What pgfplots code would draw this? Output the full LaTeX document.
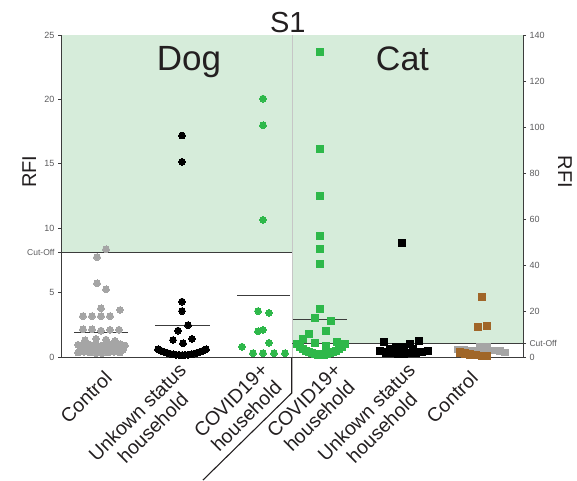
\documentclass[border=0pt]{standalone}
\usepackage{pgfplots}
\pgfplotsset{compat=1.18}
\usepackage{fontspec}
\setmainfont{Liberation Sans}
\usetikzlibrary{calc}
\definecolor{bggreen}{RGB}{214,236,218}
\definecolor{dotgreen}{RGB}{46,184,74}
\definecolor{dotgrey}{RGB}{165,165,165}
\definecolor{dotbrown}{RGB}{160,102,40}
\definecolor{txt}{RGB}{35,31,32}
\definecolor{ticktxt}{RGB}{90,90,92}
\definecolor{axcol}{RGB}{60,60,60}
\begin{document}
\begin{tikzpicture}
\pgfplotsset{
  common/.style={
    scale only axis, width=462pt, height=322pt,
    xmin=61, xmax=523, clip=false,
    tick align=outside, major tick length=3pt,
    axis line style={axcol, line width=0.9pt},
    tick style={axcol, line width=0.7pt},
    yticklabel style={font=\fontsize{9}{10}\selectfont, text=ticktxt},
    /pgf/number format/assume math mode=true,
  }
}
\begin{axis}[common, name=a,
  ymin=0, ymax=25,
  axis x line*=bottom, axis y line*=left, axis on top,
  ytick={0,5,10,15,20,25},
  extra y ticks={8.13}, extra y tick labels={Cut-Off},
  extra y tick style={yticklabel style={font=\fontsize{8.5}{9}\selectfont}},
  xtick={106,188,270,343,417,472},
  xtick style={draw=none},
  xticklabels={Control,{Unkown status\\household},{COVID19+\\household},{COVID19+\\household},{Unkown status\\household},Control},
  xticklabel style={xshift=3pt, yshift=-14pt, rotate=45, anchor=east, align=center, font=\fontsize{19.5}{22}\selectfont, text=txt, inner sep=1pt},
]
% backgrounds
\addplot[fill=bggreen, draw=none] coordinates {(61,8.13) (292,8.13) (292,25) (61,25)} -- cycle;
\addplot[fill=bggreen, draw=none] coordinates {(292,1.071) (523,1.071) (523,25) (292,25)} -- cycle;
\addplot[gray!45, line width=1pt] coordinates {(292,0) (292,25)};
% cut-off lines
\addplot[axcol, line width=1pt] coordinates {(61,8.13) (292,8.13)};
\addplot[axcol, line width=1pt] coordinates {(292,1.071) (523,1.071)};
% dog control
\addplot[only marks, color=dotgrey, mark=*, mark size=3.4pt, mark options={draw=dotgrey, fill=dotgrey, line width=0pt}] coordinates {
(106,8.36) (97,7.76) (97,5.72) (106,5.25) (101,3.78) (120,3.65)
(83,3.18) (92,3.18) (101,3.18) (110,3.18)
(83,2.15) (92,2.15) (101,2.05) (110,2.1) (119,2.12)
(85,1.3) (96,1.4) (106,1.35) (115,1.25)
(78,0.95) (84,1.0) (90,0.95) (96,1.0) (102,0.9) (108,1.0) (114,0.95) (120,1.0) (125,0.9)
(81,0.6) (87,0.65) (93,0.6) (99,0.55) (105,0.6) (111,0.65) (117,0.6) (123,0.55)
(78,0.35) (84,0.4) (90,0.35) (96,0.3) (102,0.3) (108,0.35) (114,0.4) (120,0.35)
};
% dog unknown
\addplot[only marks, color=black, mark=*, mark size=3.4pt, mark options={draw=black, fill=black, line width=0pt}] coordinates {
(182,17.2) (182,15.15) (182,4.3) (182,3.57) (188,2.48) (178,2.05) (173,1.32) (192,1.4) (183,1.06)
(158,0.6) (161,0.49) (164,0.40) (167,0.33) (170,0.26) (173,0.21) (176,0.18) (179,0.16) (182,0.15)
(185,0.16) (188,0.18) (191,0.21) (194,0.26) (197,0.33) (200,0.40) (203,0.49) (206,0.6)
};
% dog covid
\addplot[only marks, color=dotgreen, mark=*, mark size=3.4pt, mark options={draw=dotgreen, fill=dotgreen, line width=0pt}] coordinates {
(263,20.06) (263,17.99) (263,10.64) (258,3.57) (269,3.42) (258,2.0) (263,2.1) (269,1.1)
(242,0.8) (253,0.3) (263,0.3) (274,0.3) (285,0.3)
};
% mean lines dog
\addplot[axcol, line width=0.9pt] coordinates {(74,1.92) (128,1.92)};
\addplot[axcol, line width=0.9pt] coordinates {(155,2.43) (210,2.43)};
\addplot[axcol, line width=0.9pt] coordinates {(237,4.81) (290,4.81)};
% separator below axis
\addplot[txt, line width=1.1pt] coordinates {(291.7,0) (291.7,-2.8) (203,-9.55)};
% texts
\node[font=\fontsize{29}{30}\selectfont, text=txt] at (rel axis cs:0.491,1.039) {S1};
\node[font=\fontsize{35}{36}\selectfont, text=txt, anchor=base] at (rel axis cs:0.277,0.889) {Dog};
\node[font=\fontsize{34}{35}\selectfont, text=txt, anchor=base] at (rel axis cs:0.739,0.891) {Cat};
\node[font=\fontsize{20}{21}\selectfont, text=txt, rotate=90] at (rel axis cs:-0.069,0.575) {RFI};
\node[font=\fontsize{20}{21}\selectfont, text=txt, rotate=-90] at (rel axis cs:1.091,0.575) {RFI};
\end{axis}
\begin{axis}[common,
  ymin=0, ymax=140,
  axis y line*=right, axis x line=none,
  ytick={0,20,40,60,80,100,120,140},
  extra y ticks={6}, extra y tick labels={Cut-Off},
  extra y tick style={yticklabel style={font=\fontsize{8.5}{9}\selectfont}},
]
% cat covid
\addplot[only marks, color=dotgreen, mark=square*, mark size=3.6pt, mark options={draw=dotgreen, fill=dotgreen, line width=0pt}] coordinates {
(320,132.7) (320,90.3) (320,69.9) (320,52.5) (320,46.8) (320,40.6) (320,21.0) (315,17.1) (331,15.8)
(309,9.9) (326,11.4) (303,7.7) (315,6.2) (326,4.8) (337,6.5)
(297,5.5) (300,4.45) (303,3.53) (306,2.76) (309,2.13) (312,1.63) (315,1.28) (318,1.07) (321,1.0)
(324,1.07) (327,1.28) (330,1.63) (333,2.13) (336,2.76) (339,3.53) (342,4.45) (345,5.5)
};
% cat unknown
\addplot[only marks, color=black, mark=square*, mark size=3.6pt, mark options={draw=black, fill=black, line width=0pt}] coordinates {
(402,49.4) (384,6.5) (410,5.5) (419,7.0) (396,4.5) (404,4.2) (390,3.4) (413,3.5)
(380,2.5) (386,2.0) (392,1.6) (398,1.5) (404,1.5) (410,1.6) (416,2.0) (422,2.2) (428,2.6)
};
% cat control grey
\addplot[only marks, color=dotgrey, mark=square*, mark size=3.2pt, mark options={draw=dotgrey, fill=dotgrey, line width=0pt}] coordinates {
(480,4.6) (487,4.6)
(458,3.3) (464,3.0) (470,2.8) (476,2.7) (482,2.7) (488,2.7) (494,2.8) (500,2.6) (505,2.0)
};
% cat control brown
\addplot[only marks, color=dotbrown, mark=square*, mark size=3.6pt, mark options={draw=dotbrown, fill=dotbrown, line width=0pt}] coordinates {
(482,26.2) (478,12.9) (487,13.5)
(460,2.0) (465,1.5) (470,1.1) (476,0.8) (482,0.6) (487,0.5)
};
\addplot[axcol, line width=0.9pt] coordinates {(293,16.4) (347,16.4)};
\end{axis}
\pgfresetboundingbox
\path[use as bounding box] ($(a.south west)+(-61pt,-123pt)$) rectangle ($(a.north east)+(54pt,35pt)$);
\end{tikzpicture}
\end{document}
